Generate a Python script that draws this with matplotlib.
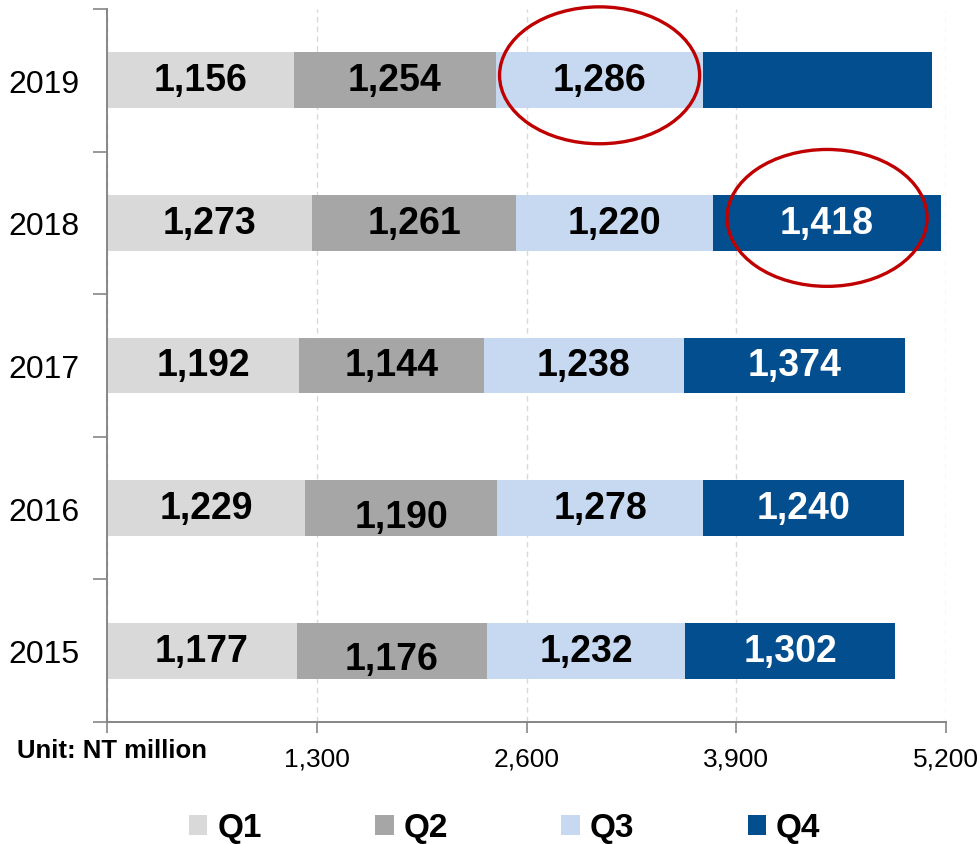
import matplotlib.pyplot as plt
from matplotlib.patches import Ellipse

plt.rcParams['font.family'] = ['Liberation Sans', 'DejaVu Sans']

years = ['2015', '2016', '2017', '2018', '2019']
q1 = [1177, 1229, 1192, 1273, 1156]
q2 = [1176, 1190, 1144, 1261, 1254]
q3 = [1232, 1278, 1238, 1220, 1286]
q4 = [1302, 1240, 1374, 1418, 1415]
quarters = ['Q1', 'Q2', 'Q3', 'Q4']
colors = ['#D9D9D9', '#A6A6A6', '#C6D9F1', '#034E8F']
label_colors = ['black', 'black', 'black', 'white']
xticks = [0, 1300, 2600, 3900, 5200]
xtick_labels = ['', '1,300', '2,600', '3,900', '5,200']

fig = plt.figure(figsize=(9.8, 8.45), dpi=100)
ax = fig.add_axes([107 / 980, 122 / 845, 839 / 980, 713 / 845])

series = [q1, q2, q3, q4]
left = [0] * len(years)
for i, vals in enumerate(series):
    ax.barh(range(len(years)), vals, left=left, height=0.39, color=colors[i],
            label=quarters[i], zorder=2)
    for j, v in enumerate(vals):
        # 2019 Q4 has no label in the original
        if i == 3 and j == 4:
            continue
        dy = -0.06 if (i == 1 and j in (0, 1)) else 0
        ax.text(left[j] + v / 2, j + dy, f'{v:,}', ha='center', va='center',
                fontsize=27, fontweight='bold', color=label_colors[i], zorder=3)
    left = [a + b for a, b in zip(left, vals)]

# red circles around highlighted values
hl = [(2, 4), (3, 3)]
for qi, yi in hl:
    start = sum(series[k][yi] for k in range(qi))
    cx = start + series[qi][yi] / 2
    e = Ellipse((cx, yi + 0.035), 1240, 0.96, fill=False, edgecolor='#C00000',
                linewidth=2.4, zorder=4, clip_on=False)
    ax.add_patch(e)

ax.set_xlim(0, 5200)
ax.set_ylim(-0.5, 4.5)
ax.set_xticks(xticks)
ax.set_xticklabels(xtick_labels, fontsize=19)
ax.set_yticks(range(len(years)))
ax.set_yticklabels(years, fontsize=23)
ax.set_yticks([k - 0.5 for k in range(len(years) + 1)], minor=True)
ax.tick_params(axis='y', which='major', length=0, pad=20)
ax.tick_params(axis='y', which='minor', length=10, width=1.2, color='#868686')
ax.tick_params(axis='x', length=8, width=1.2, color='#868686', pad=10)

ax.grid(axis='x', linestyle=(0, (4, 3)), color='#D9D9D9', linewidth=1, zorder=0)
ax.set_axisbelow(True)
for s in ['top', 'right']:
    ax.spines[s].set_visible(False)
for s in ['left', 'bottom']:
    ax.spines[s].set_color('#868686')
    ax.spines[s].set_linewidth(1.4)

fig.text(17 / 980, 1 - 751 / 845, 'Unit: NT million', fontsize=18.5,
         fontweight='bold', ha='left', va='center')

fig.legend(loc='center', bbox_to_anchor=(0.515, 1 - 829 / 845), ncol=4, frameon=False,
           prop={'size': 24, 'weight': 'bold'}, handlelength=0.55, handleheight=0.55,
           handletextpad=0.3, columnspacing=3.4)

fig.savefig('out.png', dpi=100)
